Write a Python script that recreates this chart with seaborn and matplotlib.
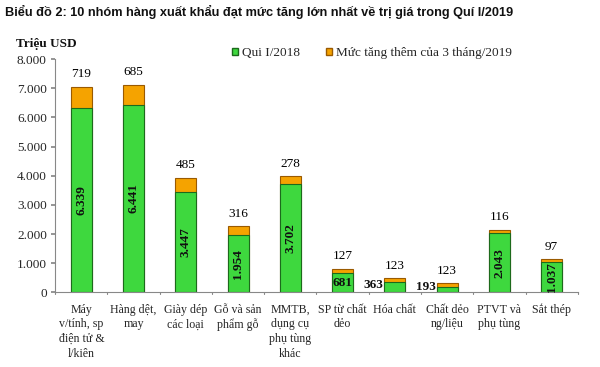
import matplotlib
matplotlib.use("Agg")
import matplotlib.pyplot as plt
import seaborn as sns
import pandas as pd
from matplotlib.patches import Patch

categories = ["Máy\nv/tính, sp\nđiện tử &\nl/kiên", "Hàng dệt,\nmay", "Giày dép\ncác loại",
              "Gỗ và sản\nphẩm gỗ", "MMTB,\ndụng cụ\nphụ tùng\nkhác", "SP từ chất\ndẻo",
              "Hóa chất", "Chất dẻo\nng/liệu", "PTVT và\nphụ tùng", "Sắt thép"]
q1_2018 = [6339, 6441, 3447, 1954, 3702, 681, 363, 193, 2043, 1037]
increase = [719, 685, 485, 316, 278, 127, 123, 123, 116, 97]
yticks = [0, 1000, 2000, 3000, 4000, 5000, 6000, 7000, 8000]

def fmt(v):
    return f"{v:,}".replace(",", ".")

total = [a + b for a, b in zip(q1_2018, increase)]
df = pd.DataFrame({"cat": categories, "q1": q1_2018, "inc": increase, "total": total})

sns.set_theme(style="white")
plt.rcParams["font.family"] = ["Liberation Serif", "DejaVu Serif"]

fig = plt.figure(figsize=(6, 3.67), dpi=100)
ax = fig.add_axes([0.092, 0.203, 0.871, 0.636])

green = "#3ed83e"
orange = "#f5a300"
sns.barplot(data=df, x="cat", y="total", color=orange, width=0.4, ax=ax,
            edgecolor="#9a5a00", linewidth=0.8, saturation=1)
sns.barplot(data=df, x="cat", y="q1", color=green, width=0.4, ax=ax,
            edgecolor="#1c6a1c", linewidth=0.8, saturation=1)

ax.set_ylim(0, 8000)
ax.set_xlim(-0.5, len(categories) - 0.5)
ax.set_yticks(yticks)
ax.set_yticklabels([fmt(v) for v in yticks], fontsize=9.5)
ax.set_xticks(range(len(categories)))
ax.set_xticklabels(categories, fontsize=8.6, linespacing=1.3, va="top")
ax.tick_params(axis="x", length=0, pad=8)
ax.tick_params(axis="y", length=3, direction="out", left=True, color="#888888", pad=3)
for b in range(len(categories) + 1):
    ax.plot([b - 0.5, b - 0.5], [0, -60], color="#888888", lw=0.8, clip_on=False)
ax.set_xlabel("")
ax.set_ylabel("")
sns.despine(ax=ax, top=True, right=True)
ax.spines["left"].set_color("#888888")
ax.spines["bottom"].set_color("#888888")
ax.spines["left"].set_linewidth(0.8)
ax.spines["bottom"].set_linewidth(0.8)

for i, (q, inc, t) in enumerate(zip(q1_2018, increase, total)):
    ax.text(i, t + 230, fmt(inc), ha="center", va="bottom", fontsize=9.5, color="black")
    if q >= 1000:
        ax.text(i, q / 2, fmt(q), ha="center", va="center", rotation=90,
                fontsize=9.5, fontweight="bold", color="#111111")
    elif q >= 600:
        ax.text(i, q / 2, fmt(q), ha="center", va="center",
                fontsize=9.5, fontweight="bold", color="#111111")
    else:
        ax.text(i - 0.22, q / 2 + 80, fmt(q), ha="right", va="center",
                fontsize=9.5, fontweight="bold", color="#111111")

handles = [Patch(facecolor=green, edgecolor="#1c6a1c", label="Qui I/2018"),
           Patch(facecolor=orange, edgecolor="#9a5a00", label="Mức tăng thêm của 3 tháng/2019")]
leg = fig.legend(handles=handles, loc="center left", bbox_to_anchor=(0.367, 0.855),
                 ncol=2, frameon=False, fontsize=9.5, handlelength=0.45, handleheight=0.45,
                 handletextpad=0.3, columnspacing=2.0)

fig.text(0.008, 0.966, "Biểu đồ 2: 10 nhóm hàng xuất khẩu đạt mức tăng lớn nhất về trị giá trong Quí I/2019",
         fontsize=9.2, fontweight="bold", family=["Liberation Sans", "DejaVu Sans"],
         ha="left", va="center", color="#111111")
fig.text(0.027, 0.88, "Triệu USD", fontsize=9.5, fontweight="bold", ha="left", va="center", color="#111111")

fig.savefig("out.png", dpi=100)
